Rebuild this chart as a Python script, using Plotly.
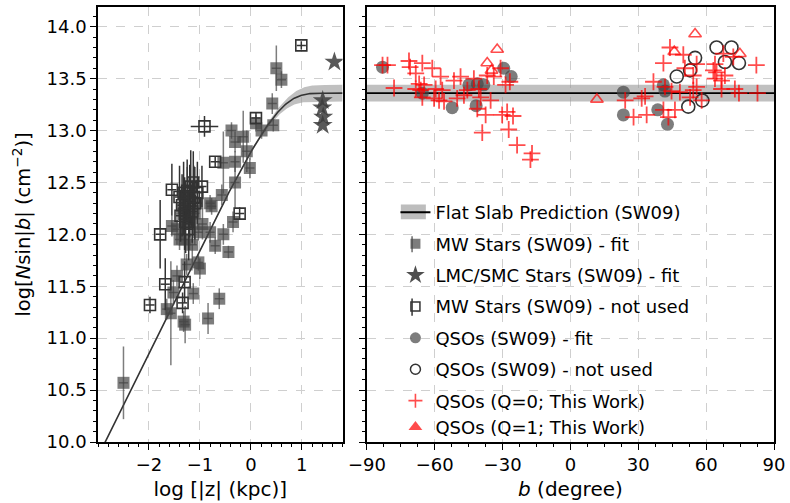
import numpy as np
import plotly.graph_objects as go

# ---------------- data ----------------
# Milky Way stars used in the fit: log|z| (kpc), log N sin|b|, errors
mw_fit_logz = [-2.50, -1.65, -1.57, -1.52, -1.45, -1.32, -1.29, -1.26, -1.13, -1.03,
               -1.00, -0.84, -0.62, -1.03, -0.80, -0.54, -0.70, -0.44, -0.35, -0.77,
               -0.80, -0.57, -0.31, -0.54, -0.31, -0.02, -0.08, -0.15, -0.31, -0.38,
               0.21, 0.10, 0.44, 0.42, 0.60, 0.50, -1.45, -1.30, -1.20, -1.10,
               -1.35, -1.25, -1.15, -1.05, -0.95, -1.40, -1.55]
mw_fit_logn = [10.57, 11.28, 11.24, 11.44, 11.60, 11.16, 11.13, 11.71, 11.43, 11.73,
               11.67, 11.19, 11.38, 12.02, 12.02, 12.00, 11.89, 11.83, 12.12, 12.27,
               12.30, 12.38, 12.50, 12.69, 12.70, 12.64, 12.80, 12.94, 12.89, 13.00,
               13.00, 13.07, 13.05, 13.26, 13.49, 13.60, 12.05, 11.95, 12.10, 12.20,
               12.25, 12.35, 11.90, 12.30, 12.10, 11.95, 12.08]
mw_fit_err = [0.35, 0.10, 0.50, 0.12, 0.10, 0.10, 0.18, 0.10, 0.10, 0.08,
              0.10, 0.15, 0.10, 0.08, 0.10, 0.10, 0.08, 0.06, 0.10, 0.08,
              0.08, 0.10, 0.25, 0.30, 0.10, 0.10, 0.20, 0.25, 0.10, 0.08,
              0.08, 0.08, 0.06, 0.10, 0.08, 0.22, 0.15, 0.20, 0.25, 0.30,
              0.20, 0.30, 0.20, 0.25, 0.15, 0.10, 0.10]
mw_fit_zerr = [0.09] * len(mw_fit_logz)

# Milky Way stars not used in the fit
mw_nu_logz = [-1.98, -1.78, -1.68, -1.55, -1.34, -1.30, -1.40, -1.35, -1.30, -1.25,
              -1.20, -1.15, -1.10, -1.28, -1.22, -1.18, -1.32, -1.38, -1.05, -1.12,
              -1.13, -0.96, -0.70, -0.91, -0.22, 0.10, 0.99]
mw_nu_logn = [11.32, 12.00, 11.52, 12.43, 11.34, 11.54, 12.36, 12.28, 12.20, 12.42,
              12.32, 12.22, 12.30, 12.12, 12.05, 12.46, 12.40, 12.18, 12.40, 12.36,
              12.50, 12.46, 12.70, 13.04, 12.20, 13.12, 13.82]
mw_nu_err = [0.08, 0.33, 0.25, 0.25, 0.10, 0.20, 0.30, 0.30, 0.35, 0.30,
             0.35, 0.30, 0.35, 0.30, 0.30, 0.35, 0.30, 0.25, 0.30, 0.30,
             0.30, 0.20, 0.05, 0.10, 0.06, 0.05, 0.04]
mw_nu_zerr = [0.09] * 23 + [0.27, 0.09, 0.09, 0.09]

# LMC / SMC stars
lmc_logz = [1.64, 1.41, 1.40, 1.42, 1.41]
lmc_logn = [13.66, 13.29, 13.22, 13.13, 13.05]

# SW09 QSO sightlines: Galactic latitude b (deg), log N sin|b|
qso_fit_b = [-83.1, -65.5, -52.3, -44.9, -41.2, -38.3, -41.7, -29.5, -26.2,
             23.4, 23.4, 38.6, 41.1, 41.8, 42.9]
qso_fit_logn = [13.61, 13.36, 13.22, 13.44, 13.45, 13.44, 13.24, 13.60, 13.52,
                13.37, 13.15, 13.20, 13.44, 13.38, 13.06]

qso_nu_b = [64.6, 71.2, 55.1, 52.9, 47.0, 68.3, 74.5, 52.1, 58.3]
qso_nu_logn = [13.80, 13.80, 13.70, 13.58, 13.52, 13.66, 13.65, 13.23, 13.29]

# This work, Q = 0
q0_b = [-83.1, -80.9, -78.0, -71.4, -70.9, -65.5, -68.4, -61.1, -66.9, -64.7,
        -68.4, -66.2, -65.5, -59.6, -57.4, -56.7, -60.3, -58.1, -55.9, -51.5,
        -48.6, -50.1, -47.1, -45.6, -42.7, -40.5, -39.7, -41.2, -37.5, -39.0,
        -35.3, -36.8, -33.9, -30.9, -28.7, -26.8, -30.2, -28.0, -25.4, -27.3,
        -23.6, -17.0, -17.7,
        44.0, 49.9, 41.1, 50.6, 55.8, 54.3, 36.7, 41.8, 44.7, 48.4,
        54.3, 55.8, 52.9, 24.2, 31.5, 33.0, 27.9, 33.7, 41.1, 43.3,
        46.2, 58.0, 63.9, 64.6, 63.9, 66.8, 67.6, 72.0, 66.8, 72.7,
        74.5, 82.2, 82.7, 63.2, 68.3]
q0_logn = [13.63, 13.63, 13.41, 13.67, 13.61, 13.65, 13.55, 13.60, 13.45, 13.44,
           13.40, 13.39, 13.32, 13.40, 13.52, 13.39, 13.31, 13.29, 13.28, 13.48,
           13.52, 13.31, 13.34, 13.39, 13.50, 13.40, 13.32, 13.21, 13.15, 12.98,
           13.29, 13.53, 13.52, 13.60, 13.44, 13.47, 13.15, 13.18, 13.14, 13.01,
           12.86, 12.78, 12.72,
           13.80, 13.73, 13.65, 13.60, 13.64, 13.53, 13.47, 13.42, 13.38, 13.37,
           13.39, 13.42, 13.32, 13.29, 13.31, 13.33, 13.13, 13.15, 13.20, 13.13,
           13.20, 13.29, 13.64, 13.56, 13.50, 13.48, 13.74, 13.71, 13.40, 13.40,
           13.36, 13.63, 13.36, 13.58, 13.53]

# This work, Q = 1
q1_b = [-32.4, -36.8, -34.9, 55.1, 11.7, 45.9, 74.9]
q1_logn = [13.78, 13.65, 13.58, 13.93, 13.30, 13.76, 13.74]

# Flat slab model (SW09): log n0 (cm^-2 kpc^-1), log N_perp and its spread
LOG_N0 = 12.86
LOG_NPERP = 13.36
NPERP_SPREAD = 0.08

# ---------------- model curves ----------------
def slab(logz, log_nperp):
    z = 10.0 ** logz
    h = 10.0 ** (log_nperp - LOG_N0)
    return log_nperp + np.log10(1.0 - np.exp(-z / h))

zgrid = np.linspace(-3.0, 1.8, 300)
model_mid = slab(zgrid, LOG_NPERP)
model_lo = slab(zgrid, LOG_NPERP - NPERP_SPREAD)
model_hi = slab(zgrid, LOG_NPERP + NPERP_SPREAD)

BAND = "rgba(150,150,150,0.6)"
GRAYFILL = "rgba(70,70,70,0.7)"
DARK = "#333333"
RED = "rgba(255,0,0,0.7)"
FONT = "DejaVu Sans"

fig = go.Figure()

# left panel: model band and curve
fig.add_trace(go.Scatter(x=np.concatenate([zgrid, zgrid[::-1]]),
                         y=np.concatenate([model_hi, model_lo[::-1]]),
                         fill="toself", fillcolor=BAND, line=dict(width=0),
                         mode="lines", hoverinfo="skip", showlegend=False,
                         xaxis="x", yaxis="y"))
fig.add_trace(go.Scatter(x=zgrid, y=model_mid, mode="lines",
                         line=dict(color=DARK, width=1.6), showlegend=False,
                         xaxis="x", yaxis="y"))

# right panel: flat band and line
fig.add_trace(go.Scatter(x=[-90, 90, 90, -90],
                         y=[LOG_NPERP - NPERP_SPREAD] * 2 + [LOG_NPERP + NPERP_SPREAD] * 2,
                         fill="toself", fillcolor=BAND, line=dict(width=0),
                         mode="lines", hoverinfo="skip", showlegend=False,
                         xaxis="x2", yaxis="y2"))
fig.add_trace(go.Scatter(x=[-90, 90], y=[LOG_NPERP, LOG_NPERP], mode="lines",
                         line=dict(color="black", width=1.8), showlegend=False,
                         xaxis="x2", yaxis="y2"))

# data
fig.add_trace(go.Scatter(x=mw_fit_logz, y=mw_fit_logn, mode="markers",
                         marker=dict(symbol="square", size=12, color=GRAYFILL,
                                     line=dict(width=0)),
                         error_y=dict(type="data", array=mw_fit_err,
                                      color="rgba(70,70,70,0.7)", thickness=1.5, width=0),
                         error_x=dict(type="data", array=mw_fit_zerr,
                                      color="rgba(70,70,70,0.7)", thickness=1.5, width=0),
                         showlegend=False, xaxis="x", yaxis="y"))

fig.add_trace(go.Scatter(x=lmc_logz, y=lmc_logn, mode="markers",
                         marker=dict(symbol="star", size=15, color="rgba(60,60,60,0.85)",
                                     line=dict(width=0)),
                         showlegend=False, xaxis="x", yaxis="y"))

fig.add_trace(go.Scatter(x=mw_nu_logz, y=mw_nu_logn, mode="markers",
                         marker=dict(symbol="square-open", size=11, color=DARK,
                                     line=dict(width=1.6, color=DARK)),
                         error_y=dict(type="data", array=mw_nu_err, color=DARK,
                                      thickness=1.5, width=0),
                         error_x=dict(type="data", array=mw_nu_zerr, color=DARK,
                                      thickness=1.5, width=0),
                         showlegend=False, xaxis="x", yaxis="y"))

fig.add_trace(go.Scatter(x=qso_fit_b, y=qso_fit_logn, mode="markers",
                         marker=dict(symbol="circle", size=13, color=GRAYFILL,
                                     line=dict(width=0)),
                         showlegend=False, xaxis="x2", yaxis="y2"))

fig.add_trace(go.Scatter(x=qso_nu_b, y=qso_nu_logn, mode="markers",
                         marker=dict(symbol="circle-open", size=13, color=DARK,
                                     line=dict(width=1.6, color=DARK)),
                         showlegend=False, xaxis="x2", yaxis="y2"))

fig.add_trace(go.Scatter(x=q0_b, y=q0_logn, mode="markers",
                         marker=dict(symbol="cross-thin", size=12, color=RED,
                                     line=dict(width=1.8, color=RED)),
                         showlegend=False, xaxis="x2", yaxis="y2"))

fig.add_trace(go.Scatter(x=q1_b, y=q1_logn, mode="markers",
                         marker=dict(symbol="triangle-up-open", size=11, color=RED,
                                     line=dict(width=1.6, color=RED)),
                         showlegend=False, xaxis="x2", yaxis="y2"))

# legend entries
legend_items = [
    ("Flat Slab Prediction (SW09)", "lines", None),
    ("MW Stars (SW09) - fit", "markers",
     dict(symbol="square", size=10, color=GRAYFILL, line=dict(width=0))),
    ("LMC/SMC Stars (SW09) - fit", "markers",
     dict(symbol="star", size=14, color="rgba(60,60,60,0.9)", line=dict(width=0))),
    ("MW Stars (SW09) - not used", "markers",
     dict(symbol="square-open", size=9, color=DARK, line=dict(width=1.5, color=DARK))),
    ("QSOs (SW09) - fit", "markers",
     dict(symbol="circle", size=11, color=GRAYFILL, line=dict(width=0))),
    ("QSOs (SW09) - not used", "markers",
     dict(symbol="circle-open", size=10, color=DARK, line=dict(width=1.5, color=DARK))),
    ("QSOs (Q=0; This Work)", "markers",
     dict(symbol="cross-thin", size=10, color=RED, line=dict(width=1.6, color=RED))),
    ("QSOs (Q=1; This Work)", "markers",
     dict(symbol="triangle-up", size=12, color=RED, line=dict(width=0))),
]
for i, (label, mode, mk) in enumerate(legend_items):
    group = "g%d" % min(i, 6)
    if mode == "lines":
        fig.add_trace(go.Scatter(x=[None], y=[None], mode="lines",
                                 line=dict(color="black", width=1.8),
                                 name=label, legendgroup=group,
                                 xaxis="x2", yaxis="y2"))
    else:
        fig.add_trace(go.Scatter(x=[None], y=[None], mode="markers", marker=mk,
                                 name=label, legendgroup=group,
                                 xaxis="x2", yaxis="y2"))

axis_common = dict(showline=True, mirror=True, linecolor="black", linewidth=1.5,
                   ticks="outside", ticklen=6, tickwidth=1.3, tickcolor="black",
                   showgrid=True, gridcolor="#cfcfcf", griddash="dash", gridwidth=1.2,
                   zeroline=False, tickfont=dict(family=FONT, size=18, color="black"))

YTICKS = [10.0, 10.5, 11.0, 11.5, 12.0, 12.5, 13.0, 13.5, 14.0]

# legend key decorations: grey band and error-bar strokes
KEY_X = 0.4646
legend_shapes = [
    dict(type="rect", xref="paper", yref="paper", x0=0.448, x1=0.485,
         y0=0.512, y1=0.546, fillcolor="#bdbdbd", line=dict(width=0), layer="above"),
    dict(type="line", xref="paper", yref="paper", x0=KEY_X, x1=KEY_X,
         y0=0.436, y1=0.473, line=dict(color="rgba(70,70,70,0.8)", width=1.5),
         layer="above"),
    dict(type="line", xref="paper", yref="paper", x0=KEY_X, x1=KEY_X,
         y0=0.290, y1=0.330, line=dict(color=DARK, width=1.5), layer="above"),
]

fig.update_layout(
    width=790, height=503,
    margin=dict(l=98, r=14, t=5, b=61),
    plot_bgcolor="white", paper_bgcolor="white",
    font=dict(family=FONT, color="black"),
    xaxis=dict(domain=[0, 0.3618], range=[-3.0, 1.8],
               tickvals=[-2, -1, 0, 1], ticktext=["\u22122", "\u22121", "0", "1"],
               minor=dict(dtick=0.2, tick0=0, ticks="outside", ticklen=3,
                          tickcolor="black", showgrid=False),
               title=dict(text="log [|z| (kpc)]", font=dict(family=FONT, size=20),
                          standoff=8),
               **axis_common),
    yaxis=dict(range=[10.0, 14.19], tickvals=YTICKS, tickformat=".1f",
               minor=dict(dtick=0.1, tick0=10, ticks="outside", ticklen=3,
                          tickcolor="black", showgrid=False),
               title=dict(text="log[<i>N</i>sin|<i>b</i>| (cm<sup>\u22122</sup>)]",
                          font=dict(family=FONT, size=19.5), standoff=11),
               **axis_common),
    xaxis2=dict(domain=[0.3978, 1.0], range=[-90, 90],
                tickvals=[-90, -60, -30, 0, 30, 60, 90],
                ticktext=["\u221290", "\u221260", "\u221230", "0", "30", "60", "90"],
                minor=dict(dtick=7.5, tick0=0, ticks="outside", ticklen=3,
                           tickcolor="black", showgrid=False),
                title=dict(text="<i>b</i> (degree)", font=dict(family=FONT, size=20),
                           standoff=8),
                anchor="y2", **axis_common),
    yaxis2=dict(range=[10.0, 14.19], matches="y", anchor="x2", showticklabels=False,
                tickvals=YTICKS,
                minor=dict(dtick=0.1, tick0=10, ticks="outside", ticklen=3,
                           tickcolor="black", showgrid=False),
                **axis_common),
    legend=dict(x=0.44, y=0.57, xanchor="left", yanchor="top",
                bgcolor="rgba(0,0,0,0)", borderwidth=0,
                font=dict(family=FONT, size=18, color="black"),
                tracegroupgap=5, traceorder="grouped"),
    showlegend=True,
    shapes=legend_shapes,
)

fig.write_html("out.html")
